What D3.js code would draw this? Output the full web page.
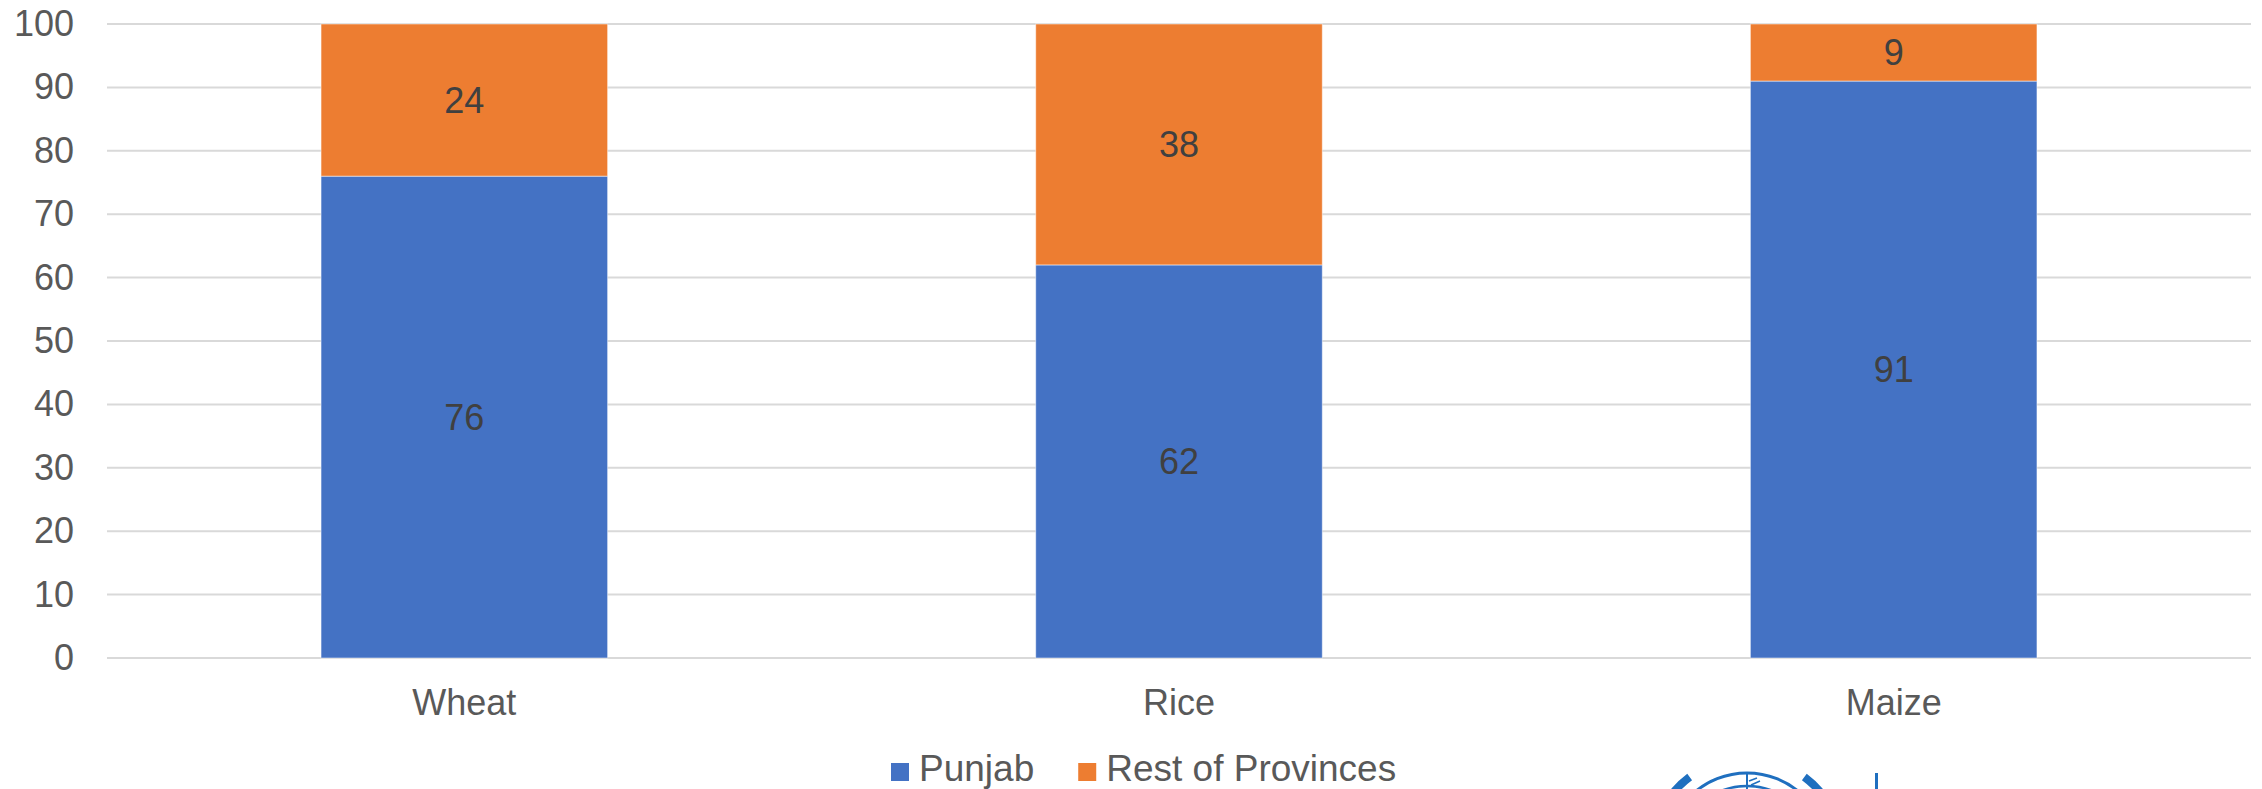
<!DOCTYPE html>
<html>
<head>
<meta charset="utf-8">
<script src="https://cdn.jsdelivr.net/npm/d3@7"></script>
<style>
  html, body { margin: 0; padding: 0; background: #ffffff; }
  svg { display: block; }
  text { font-family: "Liberation Sans", Arial, sans-serif; }
</style>
</head>
<body>
<svg id="chart" width="2262" height="789"></svg>
<script>
const categories = ["Wheat", "Rice", "Maize"];
const seriesNames = ["Punjab", "Rest of Provinces"];
const punjab = [76, 62, 91];
const restOfProvinces = [24, 38, 9];
const yTicks = [0, 10, 20, 30, 40, 50, 60, 70, 80, 90, 100];
const colors = ["#4472C4", "#ED7D31"];

const svg = d3.select("#chart");
const plot = { left: 107, right: 2251, top: 24, bottom: 658 };

const x = d3.scaleBand().domain(categories).range([plot.left, plot.right]).paddingInner(0.599).paddingOuter(0.2995);
const y = d3.scaleLinear().domain([0, 100]).range([plot.bottom, plot.top]);

// gridlines
svg.append("g").selectAll("line").data(yTicks).join("line")
  .attr("x1", plot.left).attr("x2", plot.right)
  .attr("y1", d => y(d)).attr("y2", d => y(d))
  .attr("stroke", "#d9d9d9").attr("stroke-width", 2);

// y axis labels
const yAxis = d3.axisLeft(y).tickValues(yTicks).tickSize(0).tickPadding(0);
const gy = svg.append("g").attr("transform", `translate(74,0)`).call(yAxis);
gy.select(".domain").remove();
gy.selectAll("text").attr("font-size", 36).attr("fill", "#595959")
  .attr("font-family", "'Liberation Sans', Arial, sans-serif");

// stacked data
const rows = categories.map((c, i) => ({ cat: c, Punjab: punjab[i], "Rest of Provinces": restOfProvinces[i] }));
const stack = d3.stack().keys(seriesNames)(rows);

const layers = svg.append("g").selectAll("g").data(stack).join("g")
  .attr("fill", (d, i) => colors[i]);
layers.selectAll("rect").data(d => d).join("rect")
  .attr("x", d => x(d.data.cat))
  .attr("width", x.bandwidth())
  .attr("y", d => y(d[1]))
  .attr("height", d => y(d[0]) - y(d[1]))
  .attr("stroke", "#ffffff").attr("stroke-opacity", 0.5).attr("stroke-width", 1);

// data labels
layers.selectAll("text").data(d => d).join("text")
  .attr("x", d => x(d.data.cat) + x.bandwidth() / 2)
  .attr("y", d => (y(d[0]) + y(d[1])) / 2)
  .attr("dy", "0.35em")
  .attr("text-anchor", "middle")
  .attr("font-size", 36)
  .attr("fill", "#404040")
  .text(d => d[1] - d[0]);

// x axis labels
const xAxis = d3.axisBottom(x).tickSize(0).tickPadding(0);
const gx = svg.append("g").attr("transform", `translate(0,${plot.bottom})`).call(xAxis);
gx.select(".domain").remove();
gx.selectAll("text").attr("font-size", 36).attr("fill", "#595959")
  .attr("font-family", "'Liberation Sans', Arial, sans-serif")
  .attr("dy", null).attr("y", 57);

// legend
const legend = svg.append("g");
let lx = 891;
seriesNames.forEach((name, i) => {
  legend.append("rect").attr("x", lx).attr("y", 763).attr("width", 18).attr("height", 18).attr("fill", colors[i]);
  const t = legend.append("text").attr("x", lx + 28).attr("y", 781)
    .attr("font-size", 37).attr("fill", "#595959").text(name);
  lx = lx + 28 + t.node().getComputedTextLength() + 44;
});

// partial logo at bottom right (cropped emblem)
const logo = svg.append("g").attr("fill", "none").attr("stroke", "#1f6fbf");
const cx = 1747, cyc = 854;
logo.append("circle").attr("cx", cx).attr("cy", cyc).attr("r", 81).attr("stroke-width", 3);
logo.append("circle").attr("cx", cx).attr("cy", cyc).attr("r", 68).attr("stroke-width", 2.5);
logo.append("line").attr("x1", cx).attr("x2", cx).attr("y1", 774).attr("y2", 789).attr("stroke-width", 2);
logo.append("path").attr("d", `M${cx + 2},781 l8,-3 M${cx + 4},785 l9,-4`).attr("stroke-width", 1.5);
const arc = d3.arc().innerRadius(92).outerRadius(100);
logo.append("path").attr("transform", `translate(${cx},${cyc})`)
  .attr("d", arc({ startAngle: -0.86, endAngle: -0.64 })).attr("fill", "#1f6fbf").attr("stroke", "none");
logo.append("path").attr("transform", `translate(${cx},${cyc})`)
  .attr("d", arc({ startAngle: 0.64, endAngle: 0.86 })).attr("fill", "#1f6fbf").attr("stroke", "none");
logo.append("line").attr("x1", 1876.5).attr("x2", 1876.5).attr("y1", 773).attr("y2", 789).attr("stroke-width", 3);
</script>
</body>
</html>
